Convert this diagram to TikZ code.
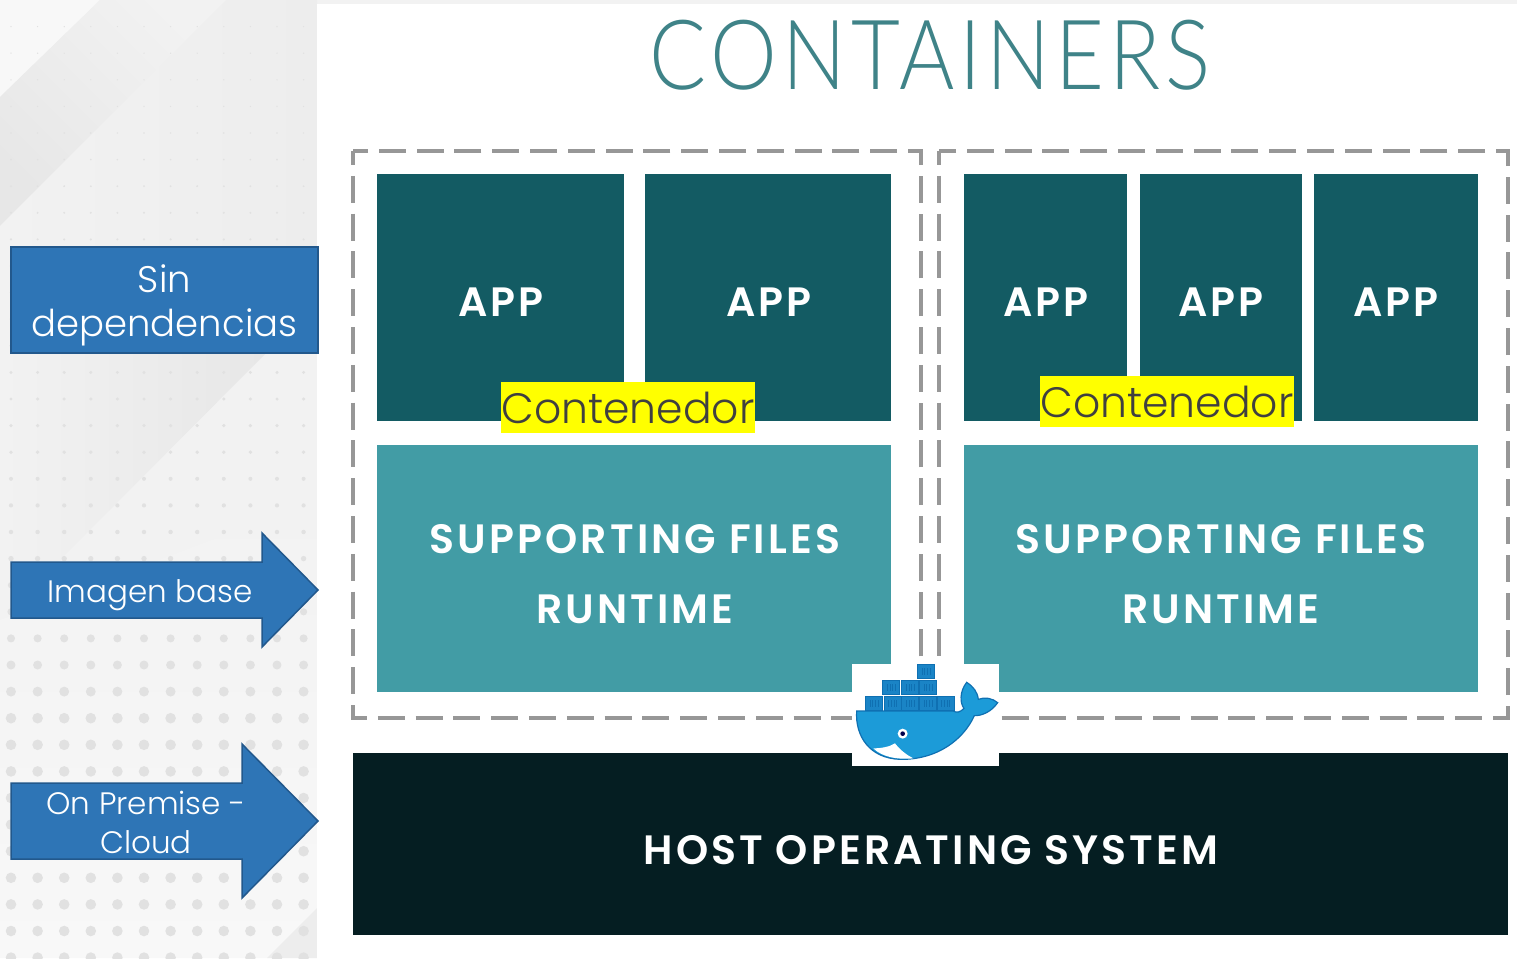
\documentclass[tikz,border=0pt]{standalone}
\usepackage{fontspec}
\setmainfont{Poppins Light}
\newfontfamily\boldf[LetterSpace=7.5]{Poppins SemiBold}
\newfontfamily\titlef[LetterSpace=6]{Lato Light}
\definecolor{bgg}{HTML}{F2F2F2}
\definecolor{bgl}{HTML}{F8F8F8}
\definecolor{bgd}{HTML}{E7E7E7}
\definecolor{bgm}{HTML}{EDEDED}
\definecolor{dotc}{HTML}{E1E1E1}
\definecolor{bluef}{HTML}{2E75B6}
\definecolor{blueb}{HTML}{22588C}
\definecolor{appc}{HTML}{135B63}
\definecolor{supc}{HTML}{429CA5}
\definecolor{hostc}{HTML}{051E22}
\definecolor{titlec}{HTML}{3F8388}
\definecolor{dashc}{HTML}{979797}
\definecolor{whale}{HTML}{1C9BD8}
\definecolor{whaled}{HTML}{0F70B2}
\definecolor{crate}{HTML}{1A84C6}
\definecolor{yel}{HTML}{FFFF00}
\definecolor{conttext}{HTML}{404040}
\tikzset{
 x=1pt,y=-1pt,
 bluebox/.style={draw=blueb,fill=bluef,line width=2pt},
 dashbox/.style={draw=dashc,line width=4pt,dash pattern=on 27pt off 10.8pt,dash phase=13pt},
 appbox/.style={fill=appc,draw=none},
 supbox/.style={fill=supc,draw=none},
 hostbox/.style={fill=hostc,draw=none},
 lab/.style={text=white,font=\fontsize{37}{44}\selectfont,inner sep=0},
 blab/.style={text=white,font=\boldf\fontsize{41}{41}\selectfont,inner sep=0},
 cont/.style={fill=yel,text=conttext,font=\fontsize{42.5}{42.5}\selectfont,inner sep=0,minimum width=254pt,minimum height=51pt},
}
\begin{document}
\begin{tikzpicture}
\useasboundingbox (0,0) rectangle (1517,958);
% background
\fill[bgg] (0,0) rectangle (1517,958);
\fill[bgl] (0,0) -- (100,0) -- (0,97) -- cycle;
\shade[bottom color=bgd,top color=bgg,shading angle=-45] (100,0) -- (226,0) -- (0,226) -- (0,97) -- cycle;
\shade[left color=bgg,right color=bgm] (226,0) -- (317,0) -- (317,353) -- (0,353) -- (0,226) -- cycle;
\shade[left color=bgg,right color=bgd] (0,353) -- (266,353) -- (63,557) -- (0,620) -- cycle;
\shade[top color=bgg,bottom color=bgl] (0,620) -- (317,500) -- (317,958) -- (0,958) -- cycle;
\fill[bgm] (267,958) -- (317,908) -- (317,958) -- cycle;
\foreach \i in {0,...,11}{
 \foreach \j in {1,...,36}{
  \pgfmathsetmacro{\yy}{26.6*\j}
  \pgfmathsetmacro{\xx}{11+26.6*\i}
  \pgfmathsetmacro{\rr}{\yy<530 ? max(0.7,0.7+(\yy-100)*0.0035) : min(5.3,2.2+(\yy-530)*0.017)}
  \fill[dotc] (\xx,\yy) circle[radius=\rr];
 }
}
% white panel
\fill[white] (317,4) rectangle (1517,958);
% title
\node[inner sep=0,text=titlec,font=\titlef\fontsize{97}{97}\selectfont] (title) at (930,55) {\scalebox{0.87}[1]{CONTAINERS}};
% dashed frames
\draw[dashbox] (353,151) rectangle (921,718);
\draw[dashbox] (939,151) rectangle (1508,718);
% apps
\fill[appbox] (377,174) rectangle (624,421);
\fill[appbox] (645,174) rectangle (891,421);
\fill[appbox] (964,174) rectangle (1127,421);
\fill[appbox] (1140,174) rectangle (1302,421);
\fill[appbox] (1314,174) rectangle (1478,421);
\node[blab] (a1) at (501,302) {APP};
\node[blab] (a2) at (769,302) {APP};
\node[blab] (a3) at (1046,302) {APP};
\node[blab] (a4) at (1221,302) {APP};
\node[blab] (a5) at (1396,302) {APP};
% supporting
\fill[supbox] (377,445) rectangle (891,692);
\fill[supbox] (964,445) rectangle (1478,692);
\node[blab] (s1) at (635,539) {SUPPORTING FILES};
\node[blab] (r1) at (635,609) {RUNTIME};
\node[blab] (s2) at (1221,539) {SUPPORTING FILES};
\node[blab] (r2) at (1221,609) {RUNTIME};
% host
\fill[hostbox] (353,753) rectangle (1508,935);
\node[blab] (h) at (931,850) {HOST OPERATING SYSTEM};
% contenedor
\node[cont] (c1) at (628,407.5) {Contenedor};
\node[cont] (c2) at (1167,401.5) {Contenedor};
% left labels
\draw[bluebox] (11,247) rectangle (318,353);
\node[lab,align=center] (sd) at (164.5,305) {Sin\\dependencias};
\draw[bluebox,line width=1.5pt] (11,562) -- (262,562) -- (262,533) -- (318,590) -- (262,647) -- (262,618) -- (11,618) -- cycle;
\node[lab,font=\fontsize{31}{31}\selectfont] (ib) at (150,595) {Imagen base};
\draw[bluebox,line width=1.5pt] (11,783) -- (242,783) -- (242,744) -- (318,821) -- (242,898) -- (242,859) -- (11,859) -- cycle;
\node[lab,font=\fontsize{31}{39}\selectfont,align=center] (op) at (146,822) {On Premise -\\Cloud};
% docker logo
\fill[white] (852,664) rectangle (999,766);
\begin{scope}[shift={(840,650)},x=0.3333pt,y=-0.3333pt]
 \foreach \bx/\by in {75/137,131/137,184/137,237/137,290/137,127/90,184/90,237/90,231/42}{
  \fill[whaled] (\bx,\by) rectangle ++(54,46);
  \fill[crate] (\bx+3,\by+4) rectangle ++(48,38);
  \foreach \k in {14,22,30,38}{\fill[whaled] (\bx+\k,\by+12) rectangle ++(3,22);}
 }
 \fill[whale,draw=whaled,line width=1.2pt] (50,183) -- (340,183)
   .. controls (350,190) and (362,186) .. (372,175)
   .. controls (360,160) and (358,125) .. (380,97)
   .. controls (400,110) and (412,125) .. (415,148)
   .. controls (435,140) and (458,145) .. (473,158)
   .. controls (455,185) and (425,198) .. (403,197)
   .. controls (370,270) and (290,330) .. (180,328)
   .. controls (90,325) and (45,260) .. (50,183) -- cycle;
 \fill[white] (100,295) .. controls (125,295) and (150,290) .. (165,280)
   .. controls (180,300) and (200,315) .. (220,325)
   .. controls (170,330) and (125,320) .. (100,295) -- cycle;
 \fill[white] (188,251) circle[radius=15];
 \fill[black!70!blue] (188,251) circle[radius=7];
\end{scope}
\end{tikzpicture}
\end{document}
